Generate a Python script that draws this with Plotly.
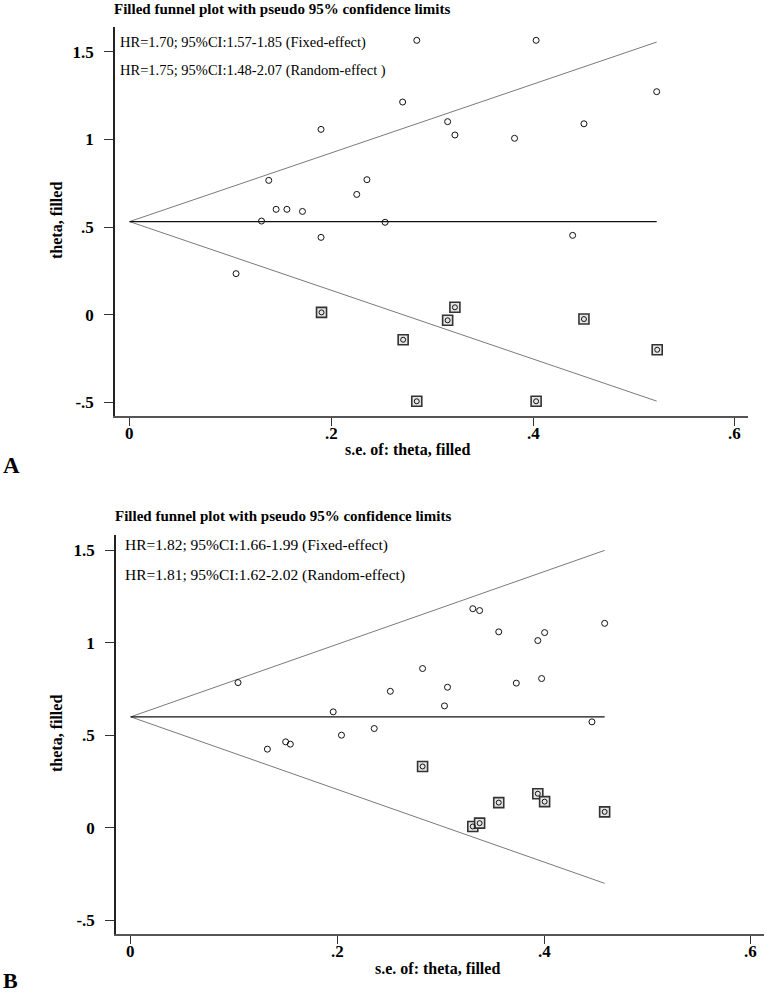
import plotly.graph_objects as go

W, H = 766, 992

# ---------------- Data: Panel A ----------------
A_se = [0.2847, 0.403, 0.5225, 0.2707, 0.3153, 0.4504, 0.3225, 0.3816, 0.1898, 0.138,
        0.2353, 0.2252, 0.1453, 0.156, 0.1714, 0.1308, 0.2533, 0.1898, 0.4392, 0.1056]
A_theta = [1.565, 1.565, 1.272, 1.213, 1.101, 1.089, 1.025, 1.006, 1.057, 0.766,
           0.770, 0.686, 0.601, 0.601, 0.589, 0.534, 0.527, 0.441, 0.4525, 0.234]
A_fill_se = [0.1903, 0.3225, 0.3153, 0.4504, 0.2712, 0.523, 0.2847, 0.403]
A_fill_theta = [0.013, 0.042, -0.032, -0.025, -0.143, -0.200, -0.494, -0.494]
A_pooled = 0.531
A_se_max = 0.5225
A_text = ["HR=1.70; 95%CI:1.57-1.85 (Fixed-effect)",
          "HR=1.75; 95%CI:1.48-2.07 (Random-effect )"]

# ---------------- Data: Panel B ----------------
B_se = [0.1039, 0.1323, 0.150, 0.1545, 0.196, 0.204, 0.2357, 0.2513, 0.2825, 0.3037,
        0.3066, 0.3311, 0.3377, 0.3562, 0.3732, 0.394, 0.4006, 0.3977, 0.4464, 0.4587]
B_theta = [0.784, 0.4245, 0.464, 0.4514, 0.626, 0.500, 0.536, 0.737, 0.860, 0.658,
           0.759, 1.183, 1.173, 1.058, 0.781, 1.011, 1.054, 0.806, 0.572, 1.104]
B_fill_se = [0.2825, 0.3311, 0.3377, 0.3562, 0.394, 0.4006, 0.4587]
B_fill_theta = [0.331, 0.007, 0.025, 0.136, 0.184, 0.141, 0.086]
B_pooled = 0.599
B_se_max = 0.4587
B_text = ["HR=1.82; 95%CI:1.66-1.99 (Fixed-effect)",
          "HR=1.81; 95%CI:1.62-2.02 (Random-effect)"]

title_text = "Filled funnel plot with pseudo 95% confidence limits"
x_ticks = [0, 0.2, 0.4, 0.6]
x_tick_labels = ["0", ".2", ".4", ".6"]
y_ticks = [-0.5, 0, 0.5, 1, 1.5]
y_tick_labels = ["-.5", "0", ".5", "1", "1.5"]

SERIF = "Liberation Serif, Times New Roman, serif"


def px(x):
    return x / W


def py(y):
    return 1 - y / H


fig = go.Figure()


def add_panel(xa, ya, se, th, fse, fth, pooled, semax):
    xs, ys = "x" if xa == 1 else "x%d" % xa, "y" if ya == 1 else "y%d" % ya
    z = 1.96
    # funnel limits
    fig.add_trace(go.Scatter(x=[semax, 0, semax],
                             y=[pooled + z * semax, pooled, pooled - z * semax],
                             mode="lines", line=dict(color="#7a7a7a", width=1),
                             xaxis=xs, yaxis=ys, showlegend=False, hoverinfo="skip"))
    # pooled line
    fig.add_trace(go.Scatter(x=[0, semax], y=[pooled, pooled], mode="lines",
                             line=dict(color="#111", width=1.4),
                             xaxis=xs, yaxis=ys, showlegend=False, hoverinfo="skip"))
    # filled studies (squares)
    fig.add_trace(go.Scatter(x=fse, y=fth, mode="markers",
                             marker=dict(symbol="square", size=10, color="#e6e6e6",
                                         line=dict(color="#333", width=1.6)),
                             xaxis=xs, yaxis=ys, showlegend=False))
    fig.add_trace(go.Scatter(x=fse, y=fth, mode="markers",
                             marker=dict(symbol="circle-open", size=5, color="#111",
                                         line=dict(width=1)),
                             xaxis=xs, yaxis=ys, showlegend=False))
    # observed studies
    fig.add_trace(go.Scatter(x=se, y=th, mode="markers",
                             marker=dict(symbol="circle-open", size=6, color="#111",
                                         line=dict(width=1)),
                             xaxis=xs, yaxis=ys, showlegend=False))


add_panel(1, 1, A_se, A_theta, A_fill_se, A_fill_theta, A_pooled, A_se_max)
add_panel(2, 2, B_se, B_theta, B_fill_se, B_fill_theta, B_pooled, B_se_max)

tickfont = dict(family=SERIF, size=17, color="#000")
common_x = dict(tickmode="array", tickvals=x_ticks, showticklabels=False,
                showline=True, linecolor="#555", linewidth=2, ticks="outside",
                ticklen=8, tickcolor="#333", tickwidth=1, showgrid=False,
                zeroline=False)
common_y = dict(tickmode="array", tickvals=y_ticks,
                ticktext=["<b>%s</b>" % t for t in y_tick_labels],
                showline=True, linecolor="#222", linewidth=1.5, ticks="outside",
                ticklen=9, tickcolor="#333", tickwidth=1, showgrid=False,
                zeroline=False, tickfont=tickfont, ticklabelstandoff=7,
                ticklabeloverflow="allow")

fig.update_layout(
    width=W, height=H,
    margin=dict(l=0, r=0, t=0, b=0),
    paper_bgcolor="white", plot_bgcolor="white",
    xaxis=dict(domain=[px(115), px(748.3)], range=[-0.0144, 0.6133], anchor="y", **common_x),
    yaxis=dict(domain=[py(416), py(27)], range=[-0.578, 1.641], anchor="x", **common_y),
    xaxis2=dict(domain=[px(116), px(764.3)], range=[-0.0142, 0.6132], anchor="y2", **common_x),
    yaxis2=dict(domain=[py(933.7), py(535)], range=[-0.572, 1.581], anchor="x2", **common_y),
)

ann = []


def text(x, y, s, size, bold=False, xanchor="left", angle=0):
    ann.append(dict(x=px(x), y=py(y), xref="paper", yref="paper", text=("<b>%s</b>" % s) if bold else s,
                    showarrow=False, xanchor=xanchor, yanchor="middle", textangle=angle,
                    borderpad=0,
                    font=dict(family=SERIF, size=size, color="#000")))


# x tick labels placed along each x axis (data x, pixel y)
for xref, ylab in (("x", 433), ("x2", 951)):
    for v, t in zip(x_ticks, x_tick_labels):
        ann.append(dict(x=v, y=py(ylab), xref=xref, yref="paper", text="<b>%s</b>" % t,
                        showarrow=False, xanchor="center", yanchor="middle", borderpad=0,
                        font=dict(family=SERIF, size=17, color="#000")))

# Panel A texts
text(113, 9, title_text, 15, bold=True)
text(119, 42, A_text[0], 14.5)
text(119, 70, A_text[1], 14.5)
text(56, 221, "theta, filled", 16, bold=True, xanchor="center", angle=-90)
text(407, 449, "s.e. of: theta, filled", 16, bold=True, xanchor="center")
text(2, 465, "A", 23, bold=True)

# Panel B texts
text(114, 516, title_text, 15, bold=True)
text(124, 545, B_text[0], 15.5)
text(124, 575, B_text[1], 15.5)
text(56, 734, "theta, filled", 16, bold=True, xanchor="center", angle=-90)
text(437, 968, "s.e. of: theta, filled", 16, bold=True, xanchor="center")
text(2, 980, "B", 22, bold=True)

fig.update_layout(annotations=ann)
fig.write_html("out.html", config={"displayModeBar": False},
               post_script="document.body.style.margin='0';document.body.style.overflow='hidden';")
